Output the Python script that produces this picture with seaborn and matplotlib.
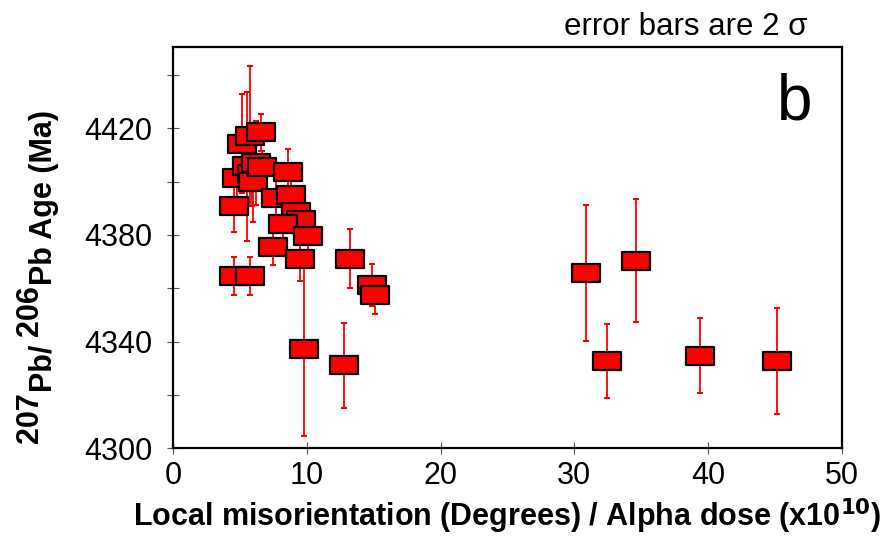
import numpy as np
import pandas as pd
import matplotlib
matplotlib.use("Agg")
import matplotlib.pyplot as plt
from matplotlib.path import Path
import seaborn as sns

# data
misorientation = [4.55, 4.75, 5.15, 5.75, 5.5, 5.88, 5.93, 6.18, 6.65, 6.57,
                  8.6, 7.7, 8.8, 9.2, 9.55, 8.2, 10.1, 7.45, 9.5, 9.8,
                  12.75, 13.2, 14.9, 15.1, 4.55, 5.75,
                  30.85, 34.6, 32.45, 39.4, 45.15]
age_ma = [4390.7, 4401.2, 4414.2, 4417.2, 4405.8, 4403.0, 4399.7, 4406.9, 4405.3, 4418.5,
          4403.6, 4393.8, 4394.9, 4388.7, 4385.6, 4384.0, 4379.7, 4375.6, 4370.9, 4337.3,
          4331.1, 4371.1, 4361.2, 4357.4, 4364.6, 4364.6,
          4365.7, 4370.3, 4332.7, 4334.7, 4332.7]
err_2sigma = [9.5, 8.0, 18.5, 26.3, 28.0, 12.0, 15.0, 15.8, 6.0, 7.0,
              8.7, 7.0, 7.0, 7.0, 7.0, 7.0, 8.0, 7.0, 8.0, 32.6,
              16.0, 11.0, 8.0, 7.0, 7.0, 7.0,
              25.5, 23.0, 14.0, 14.0, 20.0]

x_ticks = [0, 10, 20, 30, 40, 50]
y_ticks = [4300, 4340, 4380, 4420]
y_minor = [4320, 4360, 4400, 4440]

df = pd.DataFrame({"x": misorientation, "age": age_ma, "err": err_2sigma})

sns.set_style("ticks")
plt.rcParams["font.family"] = ["Liberation Sans", "DejaVu Sans"]
plt.rcParams["text.color"] = "black"
plt.rcParams["axes.labelcolor"] = "black"
plt.rcParams["xtick.color"] = "black"
plt.rcParams["ytick.color"] = "black"

W, H = 895, 541
fig = plt.figure(figsize=(W / 100, H / 100), dpi=100)
ax = fig.add_axes([173.3 / W, 1 - 448.3 / H, (841.7 - 173.3) / W, (448.3 - 46.7) / H])

# red error bars behind the boxes
ax.errorbar(df["x"], df["age"], yerr=df["err"], fmt="none", ecolor="red",
            elinewidth=1.3, capsize=2.3, capthick=1.5, zorder=1)

# rectangular box marker
rect = Path([(-1.58, -1), (1.58, -1), (1.58, 1), (-1.58, 1), (-1.58, -1)],
            [Path.MOVETO, Path.LINETO, Path.LINETO, Path.LINETO, Path.CLOSEPOLY])
sns.scatterplot(data=df, x="x", y="age", marker=rect, s=420, color="red",
                edgecolor="black", linewidth=1.6, ax=ax, zorder=2, legend=False)

ax.set_xlim(0, 50)
ax.set_ylim(4300, 4450.6)
ax.set_xticks(x_ticks)
ax.set_yticks(y_ticks)
ax.set_yticks(y_minor, minor=True)
ax.tick_params(axis="both", which="both", direction="inout", length=8,
               width=0.8, color="#555555", labelsize=22, labelcolor="black")
ax.tick_params(axis="y", which="major", pad=11)
ax.tick_params(axis="x", which="major", pad=5)
for sp in ax.spines.values():
    sp.set_visible(True)
    sp.set_linewidth(1.6)
    sp.set_color("black")

ax.set_ylabel("")
ax.set_xlabel(r"Local misorientation (Degrees) / Alpha dose (x10$^{\mathbf{10}}$)",
              fontsize=22, fontweight="bold", labelpad=4, color="black")

# y label with full-size superscripts, built piece by piece
fig.canvas.draw()
renderer = fig.canvas.get_renderer()
pieces = [("207", 45), ("Pb/ ", 59), ("206", 45), ("Pb Age (Ma)", 59)]
ypos = H - 443
for s, xr in pieces:
    t = fig.text(xr / W, ypos / H, s, rotation=90, ha="right", va="bottom",
                 fontsize=22, fontweight="bold", color="black")
    ypos = t.get_window_extent(renderer=renderer).y1

fig.text(794.5 / W, 1 - 119.3 / H, "b", fontsize=46, ha="center", va="baseline")
fig.text(808 / W, 1 - 35 / H, "error bars are 2 \u03c3", fontsize=22.5,
         ha="right", va="baseline")

fig.savefig("out.png", dpi=100)
